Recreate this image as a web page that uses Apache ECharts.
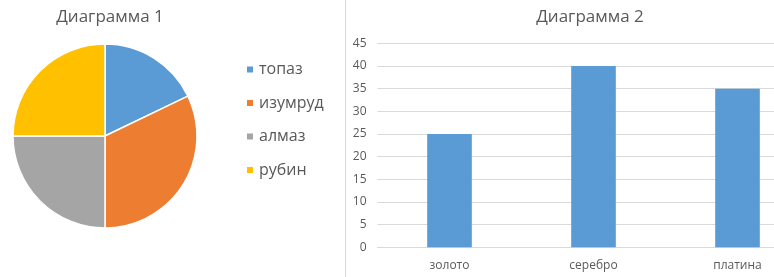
<!DOCTYPE html>
<html><head><meta charset="utf-8">
<script src="https://cdn.jsdelivr.net/npm/echarts@6/dist/echarts.min.js"></script>
<style>html,body{margin:0;padding:0;background:#fff}#c{width:774px;height:277px}</style>
</head><body><div id="c"></div>
<script>
var pieTitle = 'Диаграмма 1';
var pieNames = ['топаз', 'изумруд', 'алмаз', 'рубин'];
var pieValues = [5, 9, 7, 7];
var pieColors = ['#5B9BD5', '#ED7D31', '#A5A5A5', '#FFC000'];

var barTitle = 'Диаграмма 2';
var barCategories = ['золото', 'серебро', 'платина'];
var barValues = [25, 40, 35];
var yTicks = [0, 5, 10, 15, 20, 25, 30, 35, 40, 45];

var FONT = 'Open Sans';
var chart = echarts.init(document.getElementById('c'), null, {renderer: 'canvas'});
chart.setOption({
  animation: false,
  textStyle: {fontFamily: FONT},
  title: [
    {text: pieTitle, left: 105, top: 4, textAlign: 'center',
     textStyle: {fontSize: 17, fontWeight: 'normal', color: '#595959', fontFamily: FONT}},
    {text: barTitle, left: 585, top: 4, textAlign: 'center',
     textStyle: {fontSize: 17, fontWeight: 'normal', color: '#595959', fontFamily: FONT}}
  ],
  legend: {
    orient: 'vertical', left: 240, top: 56, icon: 'rect', itemWidth: 8, itemHeight: 8,
    itemGap: 16.5, data: pieNames,
    textStyle: {fontSize: 16, lineHeight: 17, color: '#595959', fontFamily: FONT}
  },
  graphic: [{type: 'line', shape: {x1: 345.5, y1: 0, x2: 345.5, y2: 277},
    style: {stroke: '#D9D9D9', lineWidth: 1}}],
  grid: {left: 377.5, width: 432, top: 43.3, height: 204, containLabel: false, outerBoundsMode: 'none'},
  xAxis: {type: 'category', data: barCategories,
    axisLine: {lineStyle: {color: '#D9D9D9'}}, axisTick: {show: false},
    axisLabel: {fontSize: 12, color: '#595959', margin: 12, fontFamily: FONT}},
  yAxis: {type: 'value', min: yTicks[0], max: yTicks[yTicks.length - 1], interval: 5,
    axisLine: {show: false}, axisTick: {show: false},
    splitLine: {lineStyle: {color: '#D9D9D9'}},
    axisLabel: {fontSize: 12, color: '#595959', margin: 11, fontFamily: FONT}},
  series: [
    {type: 'pie', center: [105, 136], radius: 92, startAngle: 90, clockwise: true,
     label: {show: false}, labelLine: {show: false}, emphasis: {disabled: true},
     itemStyle: {borderColor: '#fff', borderWidth: 1.5},
     data: pieNames.map(function (n, i) { return {name: n, value: pieValues[i], itemStyle: {color: pieColors[i]}}; })},
    {type: 'bar', data: barValues, barWidth: '31%', itemStyle: {color: '#5B9BD5'}, emphasis: {disabled: true}}
  ]
});
</script></body></html>
